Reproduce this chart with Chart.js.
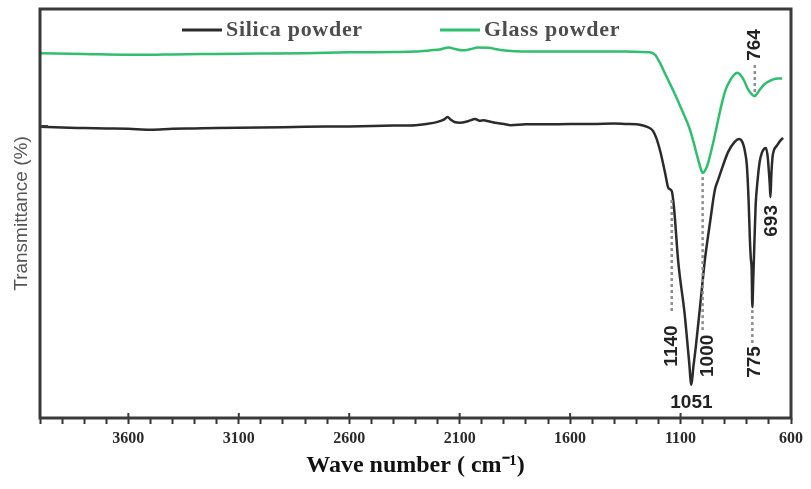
<!DOCTYPE html>
<html>
<head>
<meta charset="utf-8">
<script src="https://cdn.jsdelivr.net/npm/chart.js@4.4.1/dist/chart.umd.min.js"></script>
<style>
  html, body { margin: 0; padding: 0; background: #ffffff; }
  canvas { display: block; }
</style>
</head>
<body>
<canvas id="ftir" width="811" height="489"></canvas>
<script>
// FTIR spectra: wavenumber (cm-1) against transmittance (%)
const seriesNames = ['Silica powder', 'Glass powder'];

const silicaWave = [4000, 3900, 3800, 3700, 3600, 3500, 3400, 3300, 3200, 3000, 2800, 2600, 2400, 2300,
  2250, 2200, 2170, 2155, 2140, 2120, 2100, 2060, 2030, 2010, 1990, 1974, 1940, 1900, 1869, 1800,
  1700, 1600, 1500, 1400, 1350, 1300, 1270, 1240, 1225, 1210, 1190, 1170, 1155, 1140, 1130, 1110,
  1082, 1062, 1051, 1042, 1031, 1010, 990, 965, 945, 930, 910, 885, 855, 835, 825, 815, 808, 800,
  792, 786, 782, 778, 775, 771, 766, 760, 752, 742, 732, 722, 713, 705, 700, 696, 693, 689, 684,
  677, 665, 650, 636];
const silicaT = [71.2, 71.0, 70.9, 70.8, 70.7, 70.5, 70.7, 70.8, 70.9, 71.0, 71.2, 71.3, 71.5, 71.6,
  71.9, 72.4, 73.0, 73.6, 72.9, 72.3, 72.2, 72.6, 73.1, 72.7, 72.8, 72.6, 72.2, 71.9, 71.6, 71.8,
  71.8, 71.9, 71.9, 72.0, 71.9, 71.8, 71.5, 70.9, 70.2, 68.5, 64.8, 59.9, 56.2, 55.5, 51.6, 37.9,
  25.7, 14.2, 8.1, 12.5, 17.4, 28.1, 38.6, 48.4, 55.7, 58.2, 61.4, 65.0, 67.5, 68.2, 67.9, 66.7, 65.0, 61.9,
  53.3, 43.5, 39.1, 36.2, 27.1, 33.7, 42.3, 52.1, 57.7, 62.6, 64.8, 65.8, 66.0, 63.6, 60.1, 57.0, 54.0, 59.4, 63.6,
  65.5, 66.5, 67.7, 68.5];

const glassWave = [4000, 3800, 3600, 3500, 3400, 3200, 3000, 2800, 2600, 2400, 2300, 2230, 2190, 2150,
  2120, 2087, 2050, 2019, 1969, 1915, 1850, 1700, 1500, 1350, 1280, 1240, 1215, 1195, 1165, 1130,
  1090, 1060, 1040, 1020, 1005, 1000, 990, 975, 955, 935, 915, 895, 875, 858, 842, 825, 810, 795,
  780, 764, 755, 740, 720, 700, 680, 660, 640];
const glassT = [89.2, 89.0, 88.8, 88.8, 88.9, 89.0, 89.1, 89.2, 89.4, 89.5, 89.6, 89.9, 90.1, 90.6,
  90.2, 89.9, 90.2, 90.6, 90.5, 90.0, 89.7, 89.6, 89.6, 89.6, 89.5, 89.4, 88.8, 87.0, 83.6, 79.7,
  74.8, 70.9, 67.2, 63.1, 60.4, 59.9, 60.4, 62.4, 66.7, 71.6, 76.5, 80.4, 82.6, 83.9, 84.4, 83.6, 82.2, 80.4,
  79.3, 78.7, 79.2, 80.4, 81.6, 82.3, 82.8, 83.0, 83.0];

const majorTicks = [3600, 3100, 2600, 2100, 1600, 1100, 600];

// labelled absorption bands
const peakLabels = ['1140', '1000', '775', '1051', '693', '764'];
const peakWave = [1140, 1000, 775, 1051, 693, 764];

// where each band label sits (y-axis units): dotted guide span, text centre, text nudge in px
const peakLayout = [
  { guide: [53.3, 25.7], text: 17.6, rotate: true, dx: 0 },
  { guide: [58.9, 20.8], text: 15.2, rotate: true, dx: 5 },
  { guide: [26.4, 17.8], text: 13.7, rotate: true, dx: 2 },
  { guide: null,         text: 3.7,  rotate: false, dx: 0 },
  { guide: null,         text: 48.2, rotate: true, dx: 1 },
  { guide: [86.3, 79.0], text: 91.2, rotate: true, dx: 0 }
];

const colors = { silica: '#2b2b2b', glass: '#2fbf6f', frame: '#3a3a3a' };
const baselineMark = 71.4;

const toPoints = (xs, ys) => xs.map((x, i) => ({ x: x, y: ys[i] }));

// plot frame, upward major tick stubs and the single y marker
const framePlugin = {
  id: 'frame',
  afterDatasetsDraw(chart) {
    const { ctx, chartArea: a, scales: { x, y } } = chart;
    ctx.save();
    ctx.strokeStyle = colors.frame;
    ctx.lineWidth = 3;
    ctx.strokeRect(a.left, a.top, a.right - a.left, a.bottom - a.top);
    ctx.lineWidth = 2;
    majorTicks.forEach(v => {
      const px = x.getPixelForValue(v);
      ctx.beginPath();
      ctx.moveTo(px, a.bottom);
      ctx.lineTo(px, a.bottom - 5);
      ctx.stroke();
    });
    const py = y.getPixelForValue(baselineMark);
    ctx.beginPath();
    ctx.moveTo(a.left, py);
    ctx.lineTo(a.left + 8, py);
    ctx.stroke();
    ctx.restore();
  }
};

// band labels with dotted guides
const peakPlugin = {
  id: 'peaks',
  afterDatasetsDraw(chart) {
    const { ctx, scales: { x, y } } = chart;
    ctx.save();
    peakWave.forEach((w, i) => {
      const m = peakLayout[i];
      const px = x.getPixelForValue(w);
      if (m.guide) {
        ctx.beginPath();
        ctx.setLineDash([3, 3]);
        ctx.lineWidth = 2.5;
        ctx.strokeStyle = '#8e8e8e';
        ctx.moveTo(px, y.getPixelForValue(m.guide[0]));
        ctx.lineTo(px, y.getPixelForValue(m.guide[1]));
        ctx.stroke();
        ctx.setLineDash([]);
      }
      ctx.font = 'bold 19px "Liberation Sans", Arial, sans-serif';
      ctx.fillStyle = '#222222';
      ctx.textAlign = 'center';
      ctx.textBaseline = 'middle';
      const ty = y.getPixelForValue(m.text);
      if (m.rotate) {
        ctx.save();
        ctx.translate(px + m.dx, ty);
        ctx.rotate(-Math.PI / 2);
        ctx.fillText(peakLabels[i], 0, 0);
        ctx.restore();
      } else {
        ctx.fillText(peakLabels[i], px + m.dx, ty);
      }
    });
    ctx.restore();
  }
};

// legend row inside the plot
const legendPlugin = {
  id: 'innerLegend',
  afterDatasetsDraw(chart) {
    const { ctx, chartArea: a } = chart;
    const rowY = a.top + 21;
    const items = [
      { name: seriesNames[0], color: colors.silica, x: a.left + 142 },
      { name: seriesNames[1], color: colors.glass, x: a.left + 400 }
    ];
    ctx.save();
    ctx.font = 'bold 22px "Liberation Serif", "Times New Roman", serif';
    if ('letterSpacing' in ctx) ctx.letterSpacing = '0.7px';
    ctx.textBaseline = 'middle';
    ctx.textAlign = 'left';
    items.forEach(it => {
      ctx.strokeStyle = it.color;
      ctx.lineWidth = 3;
      ctx.beginPath();
      ctx.moveTo(it.x, rowY);
      ctx.lineTo(it.x + 40, rowY);
      ctx.stroke();
      ctx.fillStyle = '#4d4d4d';
      ctx.fillText(it.name, it.x + 44, rowY);
    });
    ctx.restore();
  }
};

new Chart(document.getElementById('ftir'), {
  type: 'line',
  data: {
    datasets: [
      {
        label: seriesNames[0],
        data: toPoints(silicaWave, silicaT),
        borderColor: colors.silica,
        backgroundColor: colors.silica,
        borderWidth: 2.5,
        pointRadius: 0,
        cubicInterpolationMode: 'monotone',
        fill: false
      },
      {
        label: seriesNames[1],
        data: toPoints(glassWave, glassT),
        borderColor: colors.glass,
        backgroundColor: colors.glass,
        borderWidth: 2.5,
        pointRadius: 0,
        cubicInterpolationMode: 'monotone',
        fill: false
      }
    ]
  },
  options: {
    responsive: false,
    devicePixelRatio: 1,
    animation: false,
    events: [],
    layout: { padding: { top: 9, right: 20, left: 0, bottom: 0 } },
    plugins: {
      legend: { display: false },
      tooltip: { enabled: false }
    },
    scales: {
      x: {
        type: 'linear',
        reverse: true,
        min: 600,
        max: 4000,
        border: { display: false },
        grid: {
          display: true,
          drawOnChartArea: false,
          drawTicks: true,
          tickLength: 6,
          tickWidth: 2,
          tickColor: '#333333'
        },
        ticks: {
          stepSize: 100,
          autoSkip: false,
          maxRotation: 0,
          padding: 5,
          color: '#2a2a2a',
          font: { family: '"Liberation Serif", "Times New Roman", serif', size: 16, weight: 'bold' },
          callback: v => (majorTicks.includes(v) ? String(v) : '')
        },
        title: {
          display: true,
          text: 'Wave number ( cm\u207B\u00B9)',
          color: '#111111',
          font: { family: '"Liberation Serif", "Times New Roman", serif', size: 24, weight: 'bold' },
          padding: { top: 0, bottom: 9 }
        },
        afterFit: s => { s.height = 71; }
      },
      y: {
        min: 0,
        max: 100,
        border: { display: false },
        grid: { display: false },
        ticks: { display: false },
        title: {
          display: true,
          text: 'Transmittance (%)',
          color: '#555555',
          font: { family: '"Liberation Sans", Arial, sans-serif', size: 19, weight: 'normal' },
          padding: { top: 10, bottom: 0 }
        },
        afterFit: s => { s.width = 40; }
      }
    }
  },
  plugins: [framePlugin, peakPlugin, legendPlugin]
});
</script>
</body>
</html>
